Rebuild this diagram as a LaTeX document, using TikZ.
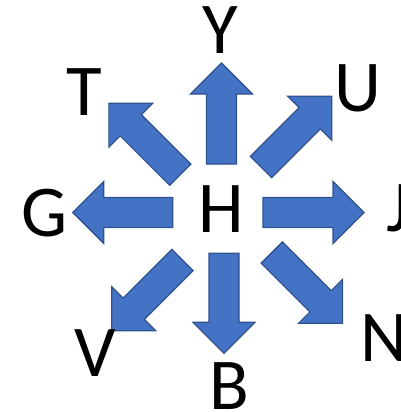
\documentclass[tikz,border=0pt]{standalone}
\usepackage{fontspec}
\setmainfont{Carlito}
\definecolor{arrowfill}{HTML}{4472C4}
\definecolor{arrowline}{HTML}{2F528F}
\begin{document}
\begin{tikzpicture}[x=1pt,y=-1pt,
  letter/.style={inner sep=0pt,anchor=base,font=\fontsize{73}{73}\selectfont},
  pics/blockarrow/.style={code={
    \draw[fill=arrowfill,draw=arrowline,line width=1.2pt,line join=miter]
      (0,-15) -- (#1-31,-15) -- (#1-31,-31) -- (#1,0) -- (#1-31,31)
      -- (#1-31,15) -- (0,15) -- cycle;
  }}]
\useasboundingbox (0,0) rectangle (401,412);

% block arrows radiating from the centre letter
\pic[rotate=90]   at (221.5,164)   {blockarrow=101};
\pic[rotate=-90]  at (224,253.3)   {blockarrow=100};
\pic[rotate=180]  at (172.7,212.5) {blockarrow=100};
\pic[rotate=0]    at (263,212.5)   {blockarrow=101};
\pic[rotate=45]   at (261,167)     {blockarrow=100};
\pic[rotate=135]  at (180.3,174.7) {blockarrow=101};
\pic[rotate=-135] at (182.5,260)   {blockarrow=100};
\pic[rotate=-45]  at (271.8,252.5) {blockarrow=100};

% letters
\node[letter] (H) at (221.3,232.7) {H};
\node[letter] (Y) at (220,54)      {Y};
\node[letter] (U) at (358,111)     {U};
\node[letter] (T) at (84.5,115)    {T};
\node[letter] (G) at (44.5,236)    {G};
\node[letter] (J) at (398,231.5)   {J};
\node[letter] (V) at (95,376.7)    {V};
\node[letter] (B) at (229.5,409.5) {B};
\node[letter] (N) at (384.5,361.5) {N};
\end{tikzpicture}
\end{document}
